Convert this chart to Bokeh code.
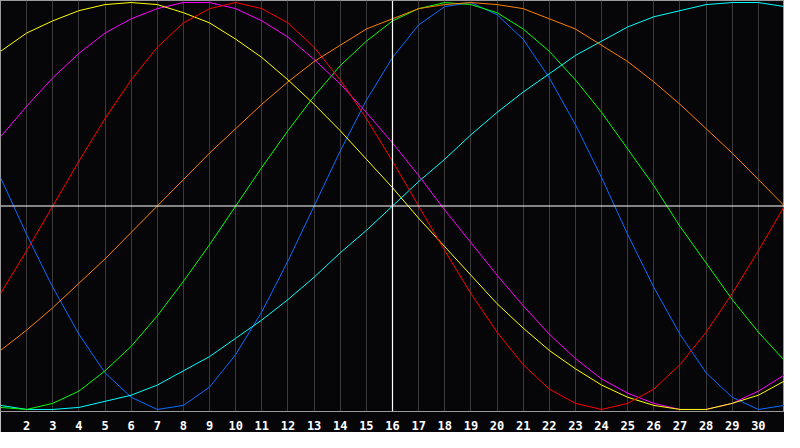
from bokeh.plotting import figure
from bokeh.models import Range1d, FixedTicker, Span
from bokeh.embed import file_html
from bokeh.resources import INLINE

days = list(range(1, 32))
tick_days = list(range(2, 31))
today = 16

# daily values, -1 .. 1
physical = [0.14, -0.14, -0.40, -0.63, -0.82, -0.94, -1.00, -0.98, -0.89, -0.73,
            -0.52, -0.27, 0.00, 0.27, 0.52, 0.73, 0.89, 0.98, 1.00, 0.94,
            0.82, 0.63, 0.40, 0.14, -0.14, -0.40, -0.63, -0.82, -0.94, -1.00, -0.98]
emotional = [-0.43, -0.22, 0.00, 0.22, 0.43, 0.62, 0.78, 0.90, 0.97, 1.00,
             0.97, 0.90, 0.78, 0.62, 0.43, 0.22, 0.00, -0.22, -0.43, -0.62,
             -0.78, -0.90, -0.97, -1.00, -0.97, -0.90, -0.78, -0.62, -0.43, -0.22, 0.00]
intellectual = [-0.99, -1.00, -0.97, -0.91, -0.81, -0.69, -0.54, -0.37, -0.19, 0.00,
                0.19, 0.37, 0.54, 0.69, 0.81, 0.91, 0.97, 1.00, 0.99, 0.95,
                0.87, 0.76, 0.62, 0.46, 0.28, 0.10, -0.10, -0.28, -0.46, -0.62, -0.76]
intuitive = [0.34, 0.49, 0.63, 0.75, 0.85, 0.92, 0.97, 1.00, 1.00, 0.97,
             0.91, 0.83, 0.72, 0.60, 0.46, 0.31, 0.15, -0.02, -0.18, -0.34,
             -0.49, -0.63, -0.75, -0.85, -0.92, -0.97, -1.00, -1.00, -0.97, -0.91, -0.83]
aesthetic = [0.76, 0.85, 0.91, 0.96, 0.99, 1.00, 0.99, 0.95, 0.90, 0.82,
             0.73, 0.62, 0.50, 0.37, 0.23, 0.09, -0.06, -0.20, -0.34, -0.48,
             -0.60, -0.71, -0.80, -0.88, -0.94, -0.98, -1.00, -1.00, -0.97, -0.93, -0.86]
awareness = [-0.71, -0.61, -0.50, -0.38, -0.26, -0.13, 0.00, 0.13, 0.26, 0.38,
             0.50, 0.61, 0.71, 0.79, 0.87, 0.92, 0.97, 0.99, 1.00, 0.99,
             0.97, 0.92, 0.87, 0.79, 0.71, 0.61, 0.50, 0.38, 0.26, 0.13, 0.00]
spiritual = [-0.98, -1.00, -1.00, -0.99, -0.96, -0.93, -0.88, -0.81, -0.74, -0.65,
             -0.56, -0.46, -0.35, -0.23, -0.12, 0.00, 0.12, 0.23, 0.35, 0.46,
             0.56, 0.65, 0.74, 0.81, 0.88, 0.93, 0.96, 0.99, 1.00, 1.00, 0.98]

cycles = [
    (physical, "#0a6cff"),
    (spiritual, "#00ffff"),
    (intellectual, "#00ff00"),
    (intuitive, "#ff00ff"),
    (aesthetic, "#ffff00"),
    (emotional, "#ff0000"),
    (awareness, "#ff8000"),
]

p = figure(width=784, height=432, output_backend="svg", toolbar_location=None,
           x_range=Range1d(1, 31), y_range=Range1d(-1.01, 1.01),
           background_fill_color="#060609", border_fill_color="#060609",
           min_border=0, min_border_bottom=20)

p.outline_line_color = "#9a9a9a"
p.yaxis.visible = False
p.ygrid.visible = False

p.xaxis.ticker = FixedTicker(ticks=tick_days)
p.xaxis.major_tick_line_color = None
p.xaxis.minor_tick_line_color = None
p.xaxis.axis_line_color = "#9a9a9a"
p.xaxis.major_label_text_color = "white"
p.xaxis.major_label_text_font = "DejaVu Sans Mono"
p.xaxis.major_label_text_font_style = "bold"
p.xaxis.major_label_text_font_size = "12px"
p.xaxis.major_label_standoff = 3
p.xgrid.ticker = FixedTicker(ticks=tick_days)
p.xgrid.grid_line_color = "#3a3a3a"

for values, color in cycles:
    p.line(days, values, line_color=color, line_width=1)

p.add_layout(Span(location=0, dimension="width", line_color="white", line_width=1.2))
p.add_layout(Span(location=today, dimension="height", line_color="white", line_width=1.2))

open("out.html", "w").write(file_html(p, INLINE))
